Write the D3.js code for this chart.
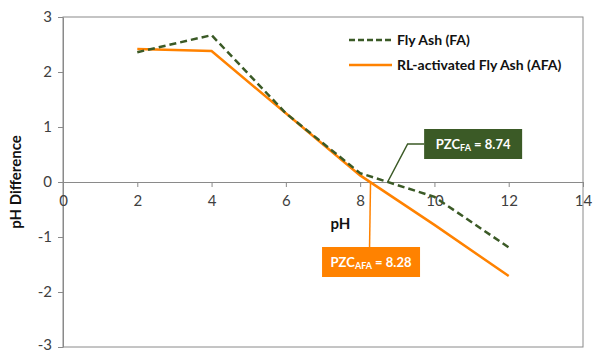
<!DOCTYPE html>
<html>
<head>
<meta charset="utf-8">
<script src="https://cdn.jsdelivr.net/npm/d3@7"></script>
<style>
  body { margin: 0; background: #fff; }
  text { font-family: Lato, "Open Sans", sans-serif; }
</style>
</head>
<body>
<div id="chart"></div>
<script>
// data
const phValues = [2, 4, 6, 8, 10, 12];
const faDiff = [2.36, 2.67, 1.25, 0.16, -0.27, -1.19];
const afaDiff = [2.42, 2.38, 1.25, 0.12, -0.78, -1.71];
const xTicks = [0, 2, 4, 6, 8, 10, 12, 14];
const yTicks = [-3, -2, -1, 0, 1, 2, 3];
const pzcFA = 8.74;
const pzcAFA = 8.28;

const svgWidth = 598;
const svgHeight = 353;
const margin = { top: 17, right: 15, bottom: 6, left: 63 };
const width = svgWidth - margin.left - margin.right;
const height = svgHeight - margin.top - margin.bottom;

const green = "#3b5a26";
const orange = "#ff8200";
const axisGrey = "#8a8a8a";

const svg = d3.select("#chart")
  .append("svg")
  .attr("width", svgWidth)
  .attr("height", svgHeight);

const chartGroup = svg.append("g")
  .attr("transform", `translate(${margin.left}, ${margin.top})`);

const x = d3.scaleLinear().domain([0, 14]).range([0, width]);
const y = d3.scaleLinear().domain([-3, 3]).range([height, 0]);

// plot border
chartGroup.append("rect")
  .attr("width", width)
  .attr("height", height)
  .attr("fill", "none")
  .attr("stroke", axisGrey)
  .attr("stroke-width", 1);

// y axis
const yAxis = chartGroup.append("g")
  .call(d3.axisLeft(y).tickValues(yTicks).tickSize(5).tickSizeOuter(0));
yAxis.select(".domain").attr("stroke", axisGrey);
yAxis.selectAll(".tick line").attr("stroke", axisGrey);
yAxis.selectAll(".tick text")
  .attr("x", -11)
  .attr("dy", d => d === -3 ? "0.15em" : "0.32em")
  .attr("fill", "#404040")
  .style("font-size", "15px")
  .style("font-family", "Lato, sans-serif")
  .text(d => d < 0 ? "-" + Math.abs(d) : d);

// x axis at y = 0
const xAxis = chartGroup.append("g")
  .attr("transform", `translate(0, ${y(0)})`)
  .call(d3.axisBottom(x).tickValues(xTicks).tickSize(5).tickSizeOuter(0));
xAxis.select(".domain").attr("stroke", axisGrey);
xAxis.selectAll(".tick line").attr("stroke", axisGrey);
xAxis.selectAll(".tick text")
  .attr("y", 13)
  .attr("fill", "#404040")
  .style("font-size", "15px")
  .style("font-family", "Lato, sans-serif");

// axis titles
chartGroup.append("text")
  .attr("x", x(7.2))
  .attr("y", y(0) + 47)
  .attr("font-size", "15px")
  .attr("font-weight", "bold")
  .attr("fill", "#111")
  .text("pH");

chartGroup.append("text")
  .attr("transform", `translate(-42, ${height / 2}) rotate(-90)`)
  .attr("text-anchor", "middle")
  .attr("font-size", "15px")
  .attr("font-weight", "bold")
  .attr("fill", "#111")
  .text("pH Difference");

// series
const line = d3.line()
  .x((d, i) => x(phValues[i]))
  .y(d => y(d));

chartGroup.append("path")
  .datum(afaDiff)
  .attr("d", line)
  .attr("fill", "none")
  .attr("stroke", orange)
  .attr("stroke-width", 2.5);

chartGroup.append("path")
  .datum(faDiff)
  .attr("d", line)
  .attr("fill", "none")
  .attr("stroke", green)
  .attr("stroke-width", 2.5)
  .attr("stroke-dasharray", "7,4");

// legend
const legend = chartGroup.append("g")
  .attr("transform", `translate(${x(7.7)}, ${y(2.58)})`);

legend.append("line")
  .attr("x1", 0).attr("x2", 43)
  .attr("y1", 0).attr("y2", 0)
  .attr("stroke", green)
  .attr("stroke-width", 2.5)
  .attr("stroke-dasharray", "6,3");
legend.append("text")
  .attr("x", 48).attr("y", 5)
  .attr("font-size", "14px")
  .attr("font-weight", "bold")
  .attr("fill", "#111")
  .text("Fly Ash (FA)");

legend.append("line")
  .attr("x1", 0).attr("x2", 43)
  .attr("y1", 25).attr("y2", 25)
  .attr("stroke", orange)
  .attr("stroke-width", 2.5);
legend.append("text")
  .attr("x", 48).attr("y", 30)
  .attr("font-size", "14px")
  .attr("font-weight", "bold")
  .attr("fill", "#111")
  .text("RL-activated Fly Ash (AFA)");

// PZC annotation for FA
const faBox = { x: x(pzcFA) + 36.5, y: y(0) - 53, w: 98, h: 30 };
chartGroup.append("polyline")
  .attr("points", [
    [x(pzcFA), y(0)],
    [x(pzcFA) + 20, faBox.y + faBox.h / 2],
    [faBox.x, faBox.y + faBox.h / 2]
  ].map(p => p.join(",")).join(" "))
  .attr("fill", "none")
  .attr("stroke", green)
  .attr("stroke-width", 1.5);
chartGroup.append("rect")
  .attr("x", faBox.x).attr("y", faBox.y)
  .attr("width", faBox.w).attr("height", faBox.h)
  .attr("fill", green);
const faLabel = chartGroup.append("text")
  .attr("x", faBox.x + faBox.w / 2)
  .attr("y", faBox.y + faBox.h / 2 + 5)
  .attr("text-anchor", "middle")
  .attr("font-size", "13px")
  .attr("font-weight", "bold")
  .attr("fill", "#fff");
faLabel.append("tspan").text("PZC");
faLabel.append("tspan").attr("font-size", "9px").attr("dy", 2).text("FA");
faLabel.append("tspan").attr("dy", -2).text(" = " + pzcFA.toFixed(2));

// PZC annotation for AFA
const afaBox = { x: x(pzcAFA) - 48.5, y: y(0) + 65, w: 98, h: 30 };
chartGroup.append("line")
  .attr("x1", x(pzcAFA)).attr("y1", y(0))
  .attr("x2", x(pzcAFA) - 1).attr("y2", afaBox.y)
  .attr("stroke", orange)
  .attr("stroke-width", 1.5);
chartGroup.append("rect")
  .attr("x", afaBox.x).attr("y", afaBox.y)
  .attr("width", afaBox.w).attr("height", afaBox.h)
  .attr("fill", orange);
const afaLabel = chartGroup.append("text")
  .attr("x", afaBox.x + afaBox.w / 2)
  .attr("y", afaBox.y + afaBox.h / 2 + 5)
  .attr("text-anchor", "middle")
  .attr("font-size", "13px")
  .attr("font-weight", "bold")
  .attr("fill", "#fff");
afaLabel.append("tspan").text("PZC");
afaLabel.append("tspan").attr("font-size", "9px").attr("dy", 2).text("AFA");
afaLabel.append("tspan").attr("dy", -2).text(" = " + pzcAFA.toFixed(2));
</script>
</body>
</html>
